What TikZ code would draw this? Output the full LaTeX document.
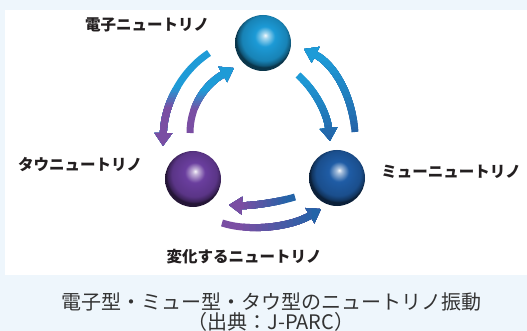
\documentclass[tikz,border=0pt]{standalone}
\usepackage{fontspec}
\newfontfamily\jpfont{Noto Sans CJK JP}
\usetikzlibrary{calc,arrows.meta}
\definecolor{nu_e}{RGB}{28,154,214}
\definecolor{nu_mu}{RGB}{31,92,165}
\definecolor{nu_tau}{RGB}{106,62,158}
\definecolor{flow_blue}{RGB}{30,155,215}
\definecolor{flow_dark}{RGB}{36,100,168}
\definecolor{flow_purple}{RGB}{122,78,163}
\definecolor{panel_bg}{RGB}{238,246,252}
\definecolor{label_ink}{RGB}{35,31,32}
\definecolor{caption_ink}{RGB}{51,51,51}

% shiny sphere, highlight a little above the middle
\pgfdeclareradialshading[ballbase]{sphere}{\pgfpoint{2bp}{7bp}}{%
	color(0bp)=(ballbase!5!white);
	color(2.5bp)=(ballbase!40!white);
	color(9bp)=(ballbase);
	color(20bp)=(ballbase!85!black);
	color(24bp)=(ballbase!55!black);
	color(25bp)=(ballbase!35!black);
	color(50bp)=(ballbase!35!black)}

\begin{document}
\begin{tikzpicture}[
		x=1pt, y=-1pt,
		every node/.style={inner sep=0pt},
		ball/.style={circle, minimum size=56pt, /utils/exec={\colorlet{ballbase}{#1}}, shading=sphere},
		flavour/.style={font=\jpfont\bfseries\fontsize{15.5}{18}\selectfont, text=label_ink},
		flowline/.style={line width=7pt, -{Triangle[width=17pt,length=13pt]}},
	]
	\useasboundingbox (0,0) rectangle (527,331);
	% backdrop and white panel
	\fill[panel_bg] (0,0) rectangle (527,331);
	\fill[white] (5,10) rectangle (527,275);

	% arrow whose colour goes from #2 to #3 along axis #4, between #5 and #6
	\def\nbands{12}
	\newcommand{\flowarrow}[6]{%
		\draw[flowline, draw=#2] #1;
		\foreach \i in {1,...,\nbands}{
				\pgfmathsetmacro{\cut}{#5+(#6-#5)*(\i-0.5)/\nbands}
				\pgfmathsetmacro{\far}{#6>#5 ? 2000 : -2000}
				\pgfmathtruncatemacro{\pct}{100*\i/\nbands}
				\begin{scope}
					\if#4x \clip (\cut,-2000) rectangle (\far,2000);
					\else \clip (-2000,\cut) rectangle (2000,\far); \fi
					\draw[flowline, draw=#3!\pct!#2] #1;
				\end{scope}
			}
	}

	% the three flavours
	\node[ball=nu_e] (e) at (263,43) {};
	\node[ball=nu_tau] (tau) at (193,179) {};
	\node[ball=nu_mu] (mu) at (337,178) {};

	\node[flavour] (e-label) at (147,25) {電子ニュートリノ};
	\node[flavour] (tau-label) at (80,165) {タウニュートリノ};
	\node[flavour] (mu-label) at (451,172) {ミューニュートリノ};
	\node[flavour] (mix-label) at (244,257) {変化するニュートリノ};

	% ends of the arrows
	\coordinate (e2tau-s) at ($(e)+(-54,10)$);
	\coordinate (e2tau-t) at ($(tau)+(-30,-33)$);
	\coordinate (tau2e-s) at ($(tau)+(-3,-46)$);
	\coordinate (tau2e-t) at ($(e)+(-29,25)$);
	\coordinate (e2mu-s) at ($(e)+(35,32)$);
	\coordinate (e2mu-t) at ($(mu)+(-7,-37)$);
	\coordinate (mu2e-s) at ($(mu)+(18,-46)$);
	\coordinate (mu2e-t) at ($(e)+(41,6)$);
	\coordinate (mu2tau-s) at ($(mu)+(-42,19)$);
	\coordinate (mu2tau-t) at ($(tau)+(36,26)$);
	\coordinate (tau2mu-s) at ($(tau)+(29,44)$);
	\coordinate (tau2mu-t) at ($(mu)+(-16,31)$);

	\flowarrow{(e2tau-s) .. controls +(-29,19) and +(1,-40) .. (e2tau-t)}{flow_blue}{flow_purple}{y}{88}{108}
	\flowarrow{(tau2e-s) .. controls +(0,-28) and +(-28,16) .. (tau2e-t)}{flow_purple}{flow_blue}{y}{110}{90}
	\flowarrow{(e2mu-s) .. controls +(17,15) and +(-3,-28) .. (e2mu-t)}{flow_blue}{flow_dark}{y}{78}{138}
	\flowarrow{(mu2e-s) .. controls +(-3,-37) and +(30,15) .. (mu2e-t)}{flow_dark}{flow_blue}{y}{130}{58}
	\flowarrow{(mu2tau-s) .. controls +(-20,6) and +(20,1) .. (mu2tau-t)}{flow_dark}{flow_purple}{x}{288}{242}
	\flowarrow{(tau2mu-s) .. controls +(28,9) and +(-30,18) .. (tau2mu-t)}{flow_purple}{flow_dark}{x}{240}{315}

	% caption below the panel
	\node[font=\jpfont\fontsize{20}{20.5}\selectfont, text=caption_ink, align=center] (caption) at (271,312)
	{電子型・ミュー型・タウ型のニュートリノ振動\\（出典：J-PARC）};

\end{tikzpicture}
\end{document}
